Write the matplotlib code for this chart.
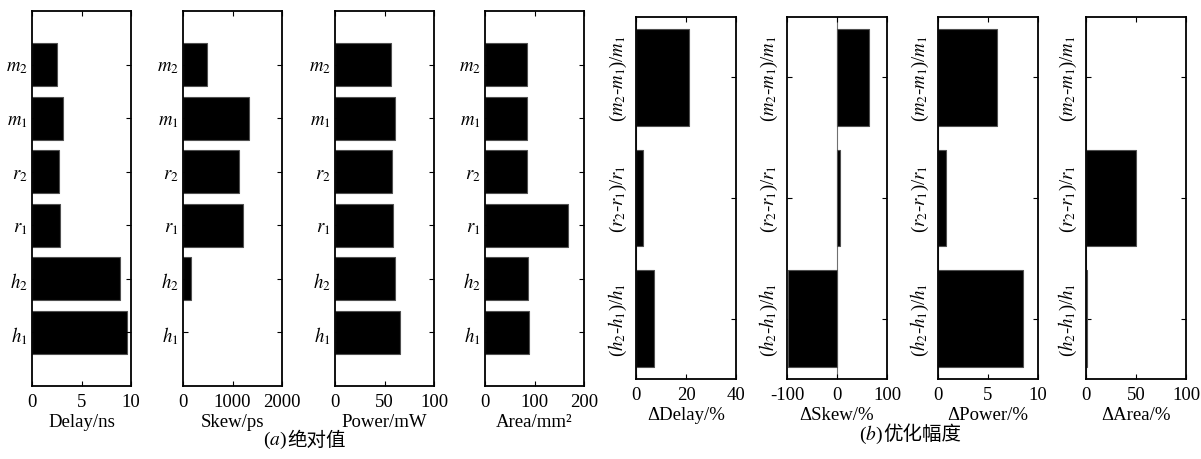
import numpy as np
from matplotlib import pyplot as plt

plt.rcParams['font.family'] = ['Liberation Serif', 'Noto Sans CJK SC']
plt.rcParams['mathtext.fontset'] = 'stix'
plt.rcParams['font.size'] = 13
plt.rcParams['axes.unicode_minus'] = False

# (a) valores absolutos, de abajo hacia arriba
etiquetas_a = [r'$h_1$', r'$h_2$', r'$r_1$', r'$r_2$', r'$m_1$', r'$m_2$']
delay = [9.6, 8.9, 2.8, 2.7, 3.15, 2.5]
skew = [0, 155, 1215, 1140, 1330, 480]
power = [66, 61, 58.3, 57.7, 60.3, 56.7]
area = [88, 87, 167.5, 84, 85.5, 85.5]

# (b) variaciones relativas
etiquetas_b = [r'($h_2$-$h_1$)/$h_1$', r'($r_2$-$r_1$)/$r_1$', r'($m_2$-$m_1$)/$m_1$']
d_delay = [7.3, 2.7, 21.0]
d_skew = [-98, 6, 64]
d_power = [8.5, 0.77, 5.93]
d_area = [1.3, 50.3, 0]

paneles_a = [
    (delay, 'Delay/ns', (0, 10), [0, 5, 10]),
    (skew, 'Skew/ps', (0, 2000), [0, 1000, 2000]),
    (power, 'Power/mW', (0, 100), [0, 50, 100]),
    (area, 'Area/mm²', (0, 200), [0, 100, 200]),
]
paneles_b = [
    (d_delay, 'ΔDelay/%', (0, 40), [0, 20, 40]),
    (d_skew, 'ΔSkew/%', (-100, 100), [-100, 0, 100]),
    (d_power, 'ΔPower/%', (0, 10), [0, 5, 10]),
    (d_area, 'ΔArea/%', (0, 100), [0, 50, 100]),
]

W, H = 1201, 460
fig = plt.figure(figsize=(W / 100, H / 100), dpi=100)


def estilo(ax, xlim, xticks, pad_x):
    ax.set_xlim(*xlim)
    ax.set_xticks(xticks)
    ax.tick_params(direction='in', length=3.5, width=0.8, top=True, right=True,
                   left=True, bottom=True, labelsize=13.5)
    ax.tick_params(axis='x', pad=pad_x)
    for s in ax.spines.values():
        s.set_linewidth(1.3)


def barras(ax, vals, **kw):
    y = np.arange(len(vals))
    # sin borde para las barras de valor cero
    bordes = [0.8 if v != 0 else 0 for v in vals]
    ax.barh(y, vals, height=0.8, color='black', edgecolor='#505050',
            linewidth=bordes, **kw)
    return y


# ---- (a)
izq_a = [32, 183, 335, 485]
for x0, (vals, etiqueta, xlim, xticks) in zip(izq_a, paneles_a):
    ax = fig.add_axes([x0 / W, (H - 387) / H, 99 / W, 375 / H])
    y = barras(ax, vals)
    ax.set_ylim(-1, 6)
    ax.set_yticks(y)
    ax.set_yticklabels(etiquetas_a, fontsize=14)
    estilo(ax, xlim, xticks, 5)
    ax.tick_params(axis='y', pad=3)
    ax.set_xlabel(etiqueta, fontsize=13.5, labelpad=2)

# ---- (b)
izq_b = [636, 787, 938, 1086]
for x0, (vals, etiqueta, xlim, xticks) in zip(izq_b, paneles_b):
    ax = fig.add_axes([x0 / W, (H - 380) / H, 100 / W, 362 / H])
    ax.axvline(0, color='#707070', linewidth=0.8, zorder=1)
    y = barras(ax, vals, zorder=2)
    ax.set_ylim(-0.5, 2.5)
    ax.set_yticks(y)
    ax.set_yticklabels(etiquetas_b, rotation=90, va='center', fontsize=14.5)
    estilo(ax, xlim, xticks, 5)
    ax.tick_params(axis='y', pad=5)
    ax.set_xlabel(etiqueta, fontsize=13.5, labelpad=2)

# ---- pies de figura
fig.text(287 / W, 1 - 440 / H, r'($a$)', ha='right', va='center', fontsize=14)
fig.text(287 / W, 1 - 440 / H, '绝对值', ha='left', va='center', fontsize=14,
         family=['Noto Sans CJK SC', 'DejaVu Sans'])
fig.text(883 / W, 1 - 435 / H, r'($b$)', ha='right', va='center', fontsize=14)
fig.text(883 / W, 1 - 435 / H, '优化幅度', ha='left', va='center', fontsize=14,
         family=['Noto Sans CJK SC', 'DejaVu Sans'])

fig.savefig('out.png', dpi=100, facecolor='white')
